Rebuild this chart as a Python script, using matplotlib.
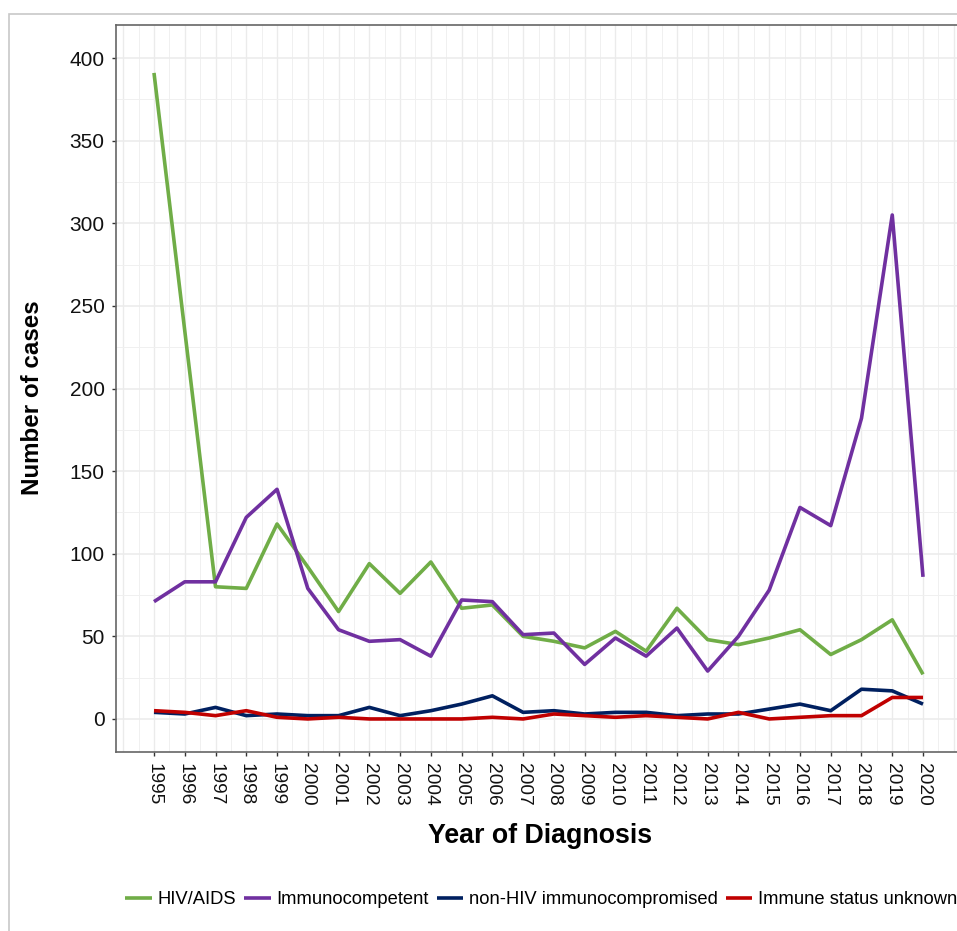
import matplotlib
matplotlib.use("Agg")
import matplotlib.pyplot as plt
from matplotlib.patches import Rectangle

plt.rcParams["font.family"] = ["Liberation Sans", "DejaVu Sans"]

# cases per year of diagnosis, by immune status
years = list(range(1995, 2021))
hiv_aids = [391, 235, 80, 79, 118, 92, 65, 94, 76, 95, 67, 69, 50,
            47, 43, 53, 41, 67, 48, 45, 49, 54, 39, 48, 60, 27]
immunocompetent = [71, 83, 83, 122, 139, 79, 54, 47, 48, 38, 72, 71, 51,
                   52, 33, 49, 38, 55, 29, 50, 78, 128, 117, 182, 305, 86]
non_hiv_immunocomp = [4, 3, 7, 2, 3, 2, 2, 7, 2, 5, 9, 14, 4,
                      5, 3, 4, 4, 2, 3, 3, 6, 9, 5, 18, 17, 9]
status_unknown = [5, 4, 2, 5, 1, 0, 1, 0, 0, 0, 0, 1, 0,
                  3, 2, 1, 2, 1, 0, 4, 0, 1, 2, 2, 13, 13]

series = [
    ("HIV/AIDS", hiv_aids, "#70AD47"),
    ("Immunocompetent", immunocompetent, "#7030A0"),
    ("non-HIV immunocompromised", non_hiv_immunocomp, "#002060"),
    ("Immune status unknown", status_unknown, "#C00000"),
]

W, H = 957, 931
fig = plt.figure(figsize=(W / 100, H / 100), dpi=100)

# screenshot frame
fig.patches.append(Rectangle((9 / W, -0.1), 1.2, (H - 14) / H + 0.1,
                             transform=fig.transFigure, fill=False,
                             edgecolor="#c8c8c8", linewidth=1.2))

ax = fig.add_axes([116 / W, (H - 752) / H, (961 - 116) / W, (752 - 25) / H])
ax.set_xlim(1993.765, 2021.235)
ax.set_ylim(-20, 420)

# ggplot-like grid
for x in range(1994, 2022):
    ax.axvline(x, color="#ebebeb", lw=1.0, zorder=0)
    ax.axvline(x + 0.5, color="#f0f0f0", lw=0.7, zorder=0)
for y in range(0, 401, 50):
    ax.axhline(y, color="#ebebeb", lw=1.1, zorder=0)
    ax.axhline(y + 25, color="#f0f0f0", lw=0.7, zorder=0)
ax.axhline(-25 + 0, color="#f0f0f0", lw=0.7, zorder=0)

for name, vals, col in series:
    ax.plot(years, vals, color=col, lw=2.6, label=name, solid_capstyle="butt")

ax.set_xticks(years)
ax.set_xticklabels([str(y) for y in years], rotation=270, fontsize=13.8)
ax.set_yticks(range(0, 401, 50))
ax.set_yticklabels([str(v) for v in range(0, 401, 50)], fontsize=15)
ax.tick_params(axis="both", direction="out", length=3.2, width=1.0,
               color="#333333", labelcolor="#111111", pad=5)

for s in ax.spines.values():
    s.set_color("#666666")
    s.set_linewidth(1.2)

fig.text(33 / W, (H - 398) / H, "Number of cases", rotation=90,
         ha="center", va="center", fontsize=17.4, fontweight="bold")
fig.text(540 / W, (H - 836) / H, "Year of Diagnosis",
         ha="center", va="center", fontsize=19.3, fontweight="bold")

fig.legend(loc="center left", bbox_to_anchor=(125 / W, (H - 900) / H),
           ncol=4, frameon=False, fontsize=13.2, handlelength=1.45,
           handletextpad=0.3, columnspacing=0.45, borderpad=0,
           borderaxespad=0)

fig.savefig("out.png", dpi=100)
